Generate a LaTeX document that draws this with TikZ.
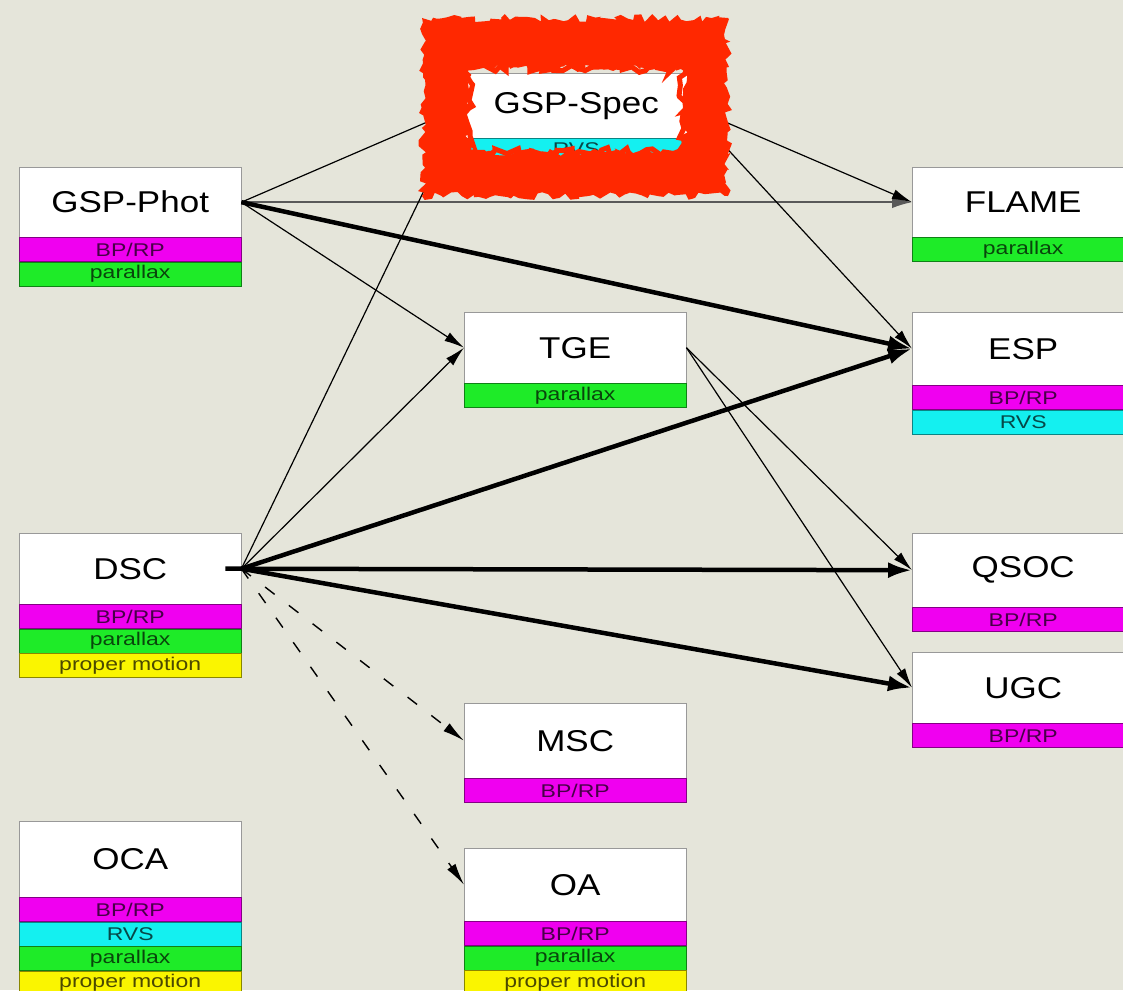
\documentclass[tikz,border=0pt]{standalone}
\usepackage{fontspec}
\usepackage{graphicx}
\setmainfont{Liberation Sans}
\usetikzlibrary{arrows.meta,positioning,decorations.pathmorphing}
\definecolor{bgc}{RGB}{229,229,218}
\definecolor{bmag}{RGB}{240,0,240}
\definecolor{bgrn}{RGB}{30,235,40}
\definecolor{bcyn}{RGB}{20,240,240}
\definecolor{byel}{RGB}{250,245,0}
\definecolor{scrib}{RGB}{255,40,0}
\newcommand\ttl[1]{\scalebox{1}[0.86]{#1}}
\newcommand\bnd[1]{\scalebox{1}[0.8]{#1}}
\begin{document}
\begin{tikzpicture}[x=1pt,y=-1pt,
  boxtitle/.style={draw=gray!80, fill=white, anchor=north west, inner sep=0pt,
    minimum width=222pt, minimum height=#1, font=\fontsize{35}{35}\selectfont},
  bandbox/.style={draw=#1!55!black, fill=#1, text=#1!30!black, inner sep=0pt,
    minimum width=222pt, minimum height=24pt, font=\fontsize{23}{23}\selectfont},
  lnthin/.style={draw=black, line width=1.2pt, -{Latex[length=20pt,width=10pt]}},
  lngray/.style={draw=black!65, line width=1.6pt, -{Latex[length=20pt,width=12pt]}},
  lnthick/.style={draw=black, line width=4.5pt, -{Latex[length=24pt,width=16pt]}},
  lndash/.style={draw=black, line width=1.4pt, dash pattern=on 12pt off 18pt,
    -{Latex[length=22pt,width=10pt]}}]
\pgfmathsetseed{7}
\clip (0,0) rectangle (1123,990);
\useasboundingbox (0,0) rectangle (1123,990);
\fill[bgc] (0,0) rectangle (1123,990);

% GSP-Phot
\node[boxtitle=70pt] (gspphot) at (19,167) {\ttl{GSP-Phot}};
\node[bandbox=bmag, below=0pt of gspphot] (gspphot1) {\bnd{BP/RP}};
\node[bandbox=bgrn, below=0pt of gspphot1] (gspphot2) {\bnd{parallax}};
% GSP-Spec
\node[boxtitle=65pt] (gspspec) at (465,73) {\ttl{GSP-Spec}};
\node[bandbox=bcyn, below=0pt of gspspec, minimum height=22pt] (gspspec1) {\bnd{RVS}};
% FLAME
\node[boxtitle=70pt] (flame) at (912,167) {\ttl{FLAME}};
\node[bandbox=bgrn, below=0pt of flame] (flame1) {\bnd{parallax}};
% ESP
\node[boxtitle=73pt] (esp) at (912,312) {\ttl{ESP}};
\node[bandbox=bmag, below=0pt of esp] (esp1) {\bnd{BP/RP}};
\node[bandbox=bcyn, below=0pt of esp1] (esp2) {\bnd{RVS}};
% TGE
\node[boxtitle=71pt] (tge) at (464,312) {\ttl{TGE}};
\node[bandbox=bgrn, below=0pt of tge] (tge1) {\bnd{parallax}};
% DSC
\node[boxtitle=71pt] (dsc) at (19,533) {\ttl{DSC}};
\node[bandbox=bmag, below=0pt of dsc] (dsc1) {\bnd{BP/RP}};
\node[bandbox=bgrn, below=0pt of dsc1] (dsc2) {\bnd{parallax}};
\node[bandbox=byel, below=0pt of dsc2] (dsc3) {\bnd{proper motion}};
% QSOC
\node[boxtitle=74pt] (qsoc) at (912,533) {\ttl{QSOC}};
\node[bandbox=bmag, below=0pt of qsoc] (qsoc1) {\bnd{BP/RP}};
% UGC
\node[boxtitle=71pt] (ugc) at (912,652) {\ttl{UGC}};
\node[bandbox=bmag, below=0pt of ugc] (ugc1) {\bnd{BP/RP}};
% MSC
\node[boxtitle=75pt] (msc) at (464,703) {\ttl{MSC}};
\node[bandbox=bmag, below=0pt of msc] (msc1) {\bnd{BP/RP}};
% OCA
\node[boxtitle=76pt] (oca) at (19,821) {\ttl{OCA}};
\node[bandbox=bmag, below=0pt of oca] (oca1) {\bnd{BP/RP}};
\node[bandbox=bcyn, below=0pt of oca1] (oca2) {\bnd{RVS}};
\node[bandbox=bgrn, below=0pt of oca2] (oca3) {\bnd{parallax}};
\node[bandbox=byel, below=0pt of oca3] (oca4) {\bnd{proper motion}};
% OA
\node[boxtitle=73pt] (oa) at (464,848) {\ttl{OA}};
\node[bandbox=bmag, below=0pt of oa] (oa1) {\bnd{BP/RP}};
\node[bandbox=bgrn, below=0pt of oa1] (oa2) {\bnd{parallax}};
\node[bandbox=byel, below=0pt of oa2] (oa3) {\bnd{proper motion}};

% connectors
\draw[lnthin] (gspphot.east) -- (gspspec.west);
\draw[lngray] (gspphot.east) -- (flame.west);
\draw[lnthin] (gspphot.east) -- (tge.west);
\draw[lnthin] (gspspec.east) -- (flame.west);
\draw[lnthin] (gspspec.east) -- (esp.west);
\draw[lnthin] (dsc.east) -- (gspspec.west);
\draw[lnthin] (dsc.east) -- (tge.west);
\draw[lnthin] (tge.east) -- (qsoc.west);
\draw[lnthin] (tge.east) -- (ugc.west);
\draw[lndash] (dsc.east) -- (msc.west);
\draw[lndash] (dsc.east) -- (oa.west);
\draw[lnthick] (gspphot.east) -- (esp.west);
\draw[lnthick] (dsc.east) -- (esp.west);
\draw[lnthick] ([xshift=-16pt]dsc.east) -- (qsoc.west);
\draw[lnthick] (dsc.east) -- (ugc.west);

% red scribble over GSP-Spec
\fill[scrib, even odd rule, decorate,
  decoration={random steps, segment length=5pt, amplitude=4pt}]
  (422,18) rectangle (728,196) (468,68) rectangle (684,152);
\draw[scrib, line width=5pt, decorate,
  decoration={random steps, segment length=6pt, amplitude=5pt}]
  (468,68) rectangle (684,152);
\end{tikzpicture}
\end{document}
